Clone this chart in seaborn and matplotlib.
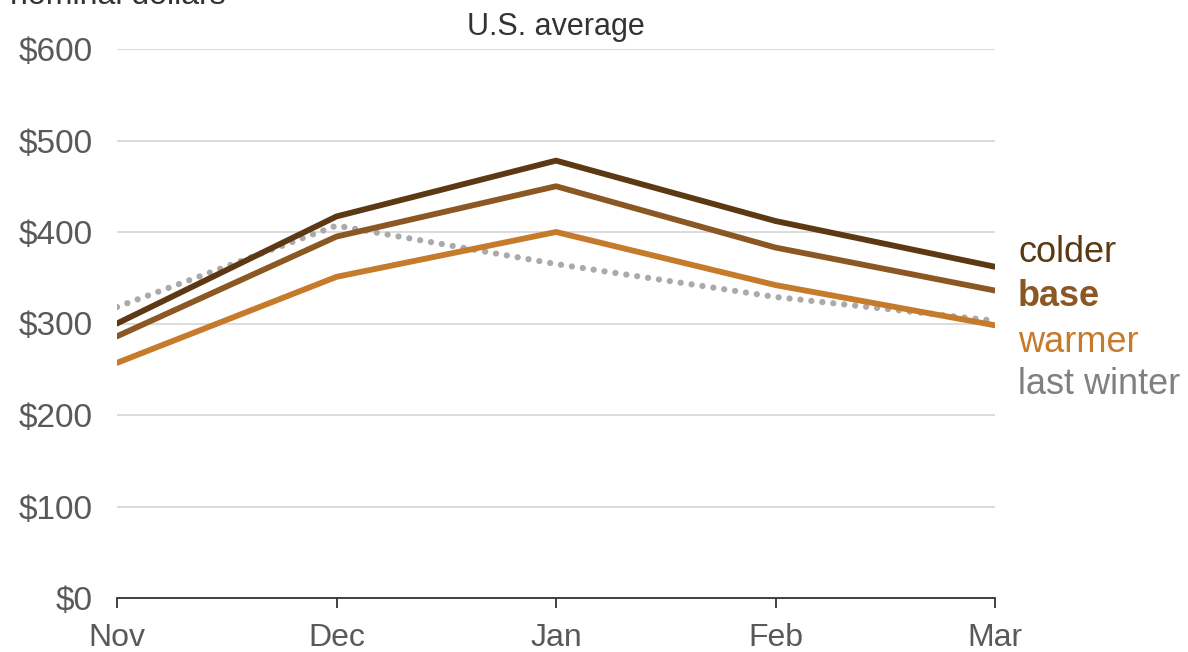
import numpy as np
import pandas as pd
import matplotlib
matplotlib.use("Agg")
import matplotlib.pyplot as plt
import seaborn as sns

months = ["Nov", "Dec", "Jan", "Feb", "Mar"]
colder = [300, 417, 478, 412, 362]
base = [286, 395, 450, 383, 336]
warmer = [257, 351, 400, 342, 298]
last_winter = [318, 407, 365, 329, 303]

series_names = ["colder", "base", "warmer", "last winter"]
series_colors = ["#5c3813", "#8b5722", "#c67a2c", "#aaaaaa"]
label_colors = ["#5c3813", "#8b5722", "#c67a2c", "#808080"]

y_ticks = [0, 100, 200, 300, 400, 500, 600]
y_labels = ["$0", "$100", "$200", "$300", "$400", "$500", "$600"]

df = pd.DataFrame({
    "month": months * 4,
    "x": list(range(len(months))) * 4,
    "value": colder + base + warmer + last_winter,
    "series": sum([[s] * len(months) for s in series_names], []),
})

sns.set_style("white")
plt.rcParams["font.family"] = ["Liberation Sans", "DejaVu Sans"]

fig = plt.figure(figsize=(11.88, 6.52), dpi=100)
ax = fig.add_axes([117 / 1188, 1 - 598 / 652, (995 - 117) / 1188, (598 - 49) / 652])

solid = df[df["series"] != "last winter"]
sns.lineplot(data=solid, x="x", y="value", hue="series", hue_order=series_names[:3],
             palette=series_colors[:3], linewidth=4.2, ax=ax, legend=False,
             solid_capstyle="round", zorder=3)
lw = df[df["series"] == "last winter"]
sns.lineplot(data=lw, x="x", y="value", color=series_colors[3], linewidth=4.5,
             linestyle=(0, (0.01, 1.75)), dash_capstyle="round", ax=ax, legend=False, zorder=2)

ax.set_xlim(0, len(months) - 1)
ax.set_ylim(0, 600)
ax.set_yticks(y_ticks)
ax.set_yticklabels(y_labels, fontsize=24, color="#595959")
ax.set_xticks(range(len(months)))
ax.set_xticklabels(months, fontsize=23, color="#595959")
ax.grid(axis="y", color="#d9d9d9", linewidth=1.3)
ax.set_axisbelow(True)
ax.set_xlabel("")
ax.set_ylabel("")
for s in ["top", "right", "left"]:
    ax.spines[s].set_visible(False)
ax.spines["bottom"].set_color("#333333")
ax.spines["bottom"].set_linewidth(1.3)
ax.tick_params(axis="x", bottom=True, length=7, width=1.3, color="#333333", pad=11)
ax.tick_params(axis="y", left=False, pad=14)

# right-side labels
label_y = [252, 297, 342, 385]
for name, c, py in zip(series_names, label_colors, label_y):
    fig.text(1018 / 1188, 1 - py / 652, name, fontsize=26, color=c, va="center", ha="left",
             fontweight="bold" if name == "base" else "normal")

ax.set_title("U.S. average", fontsize=22, color="#333333", pad=10)
fig.text(0.008, 1 - 4 / 652, "nominal dollars", fontsize=23, color="#333333", va="baseline")

fig.savefig("out.png", dpi=100)
